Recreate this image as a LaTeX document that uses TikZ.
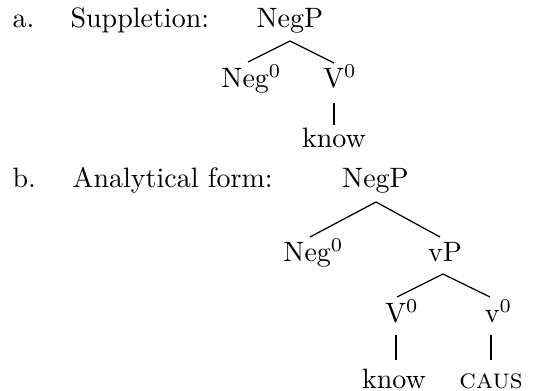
\documentclass[tikz,border=0pt]{standalone}
\usetikzlibrary{calc}
\begin{document}
\begin{tikzpicture}[x=0.357pt,y=-0.357pt,
  lbl/.style={inner sep=0pt,anchor=base,font=\fontsize{10}{12}\selectfont},
  lblw/.style={lbl,anchor=base west},
  edge/.style={line width=0.45pt}]
\useasboundingbox (0,0) rectangle (539,391);
% (a)
\node[lblw] (la) at (12,28) {a.};
\node[lblw] (ta) at (70,28) {Suppletion:};
\node[lbl] (np1) at (290,28) {NegP};
\node[lbl] (ng1) at (251.5,88) {Neg$^0$};
\node[lbl] (v1) at (340,88) {V$^0$};
\node[lbl] (k1) at (334,148) {know};
\draw[edge] ($(np1.base)+(0,13)$) -- ($(ng1.base)+(-3.5,-26)$);
\draw[edge] ($(np1.base)+(0,13)$) -- ($(v1.base)+(-6,-25)$);
\draw[edge] ($(v1.base)+(-6,15)$) -- ($(k1.base)+(0,-23)$);
% (b)
\node[lblw] (lb) at (12,188) {b.};
\node[lblw] (tb) at (72,188) {Analytical form:};
\node[lbl] (np2) at (375.5,188) {NegP};
\node[lbl] (ng2) at (313.5,262) {Neg$^0$};
\node[lbl] (vp) at (445,262) {vP};
\node[lbl] (v2) at (402,323) {V$^0$};
\node[lbl] (sv) at (498.5,323) {v$^0$};
\node[lbl] (k2) at (394,389) {know};
\node[lbl] (cs) at (491,389) {\textsc{caus}};
\draw[edge] ($(np2.base)+(0.5,14)$) -- ($(ng2.base)+(-3.5,-25)$);
\draw[edge] ($(np2.base)+(0.5,14)$) -- ($(vp.base)+(-5,-25)$);
\draw[edge] ($(vp.base)+(-2,12)$) -- ($(v2.base)+(-5,-26)$);
\draw[edge] ($(vp.base)+(-2,12)$) -- ($(sv.base)+(-8.5,-26)$);
\draw[edge] ($(v2.base)+(-6,12)$) -- ($(k2.base)+(2,-29)$);
\draw[edge] ($(sv.base)+(-7.5,12)$) -- ($(cs.base)+(0,-29)$);
\end{tikzpicture}
\end{document}
